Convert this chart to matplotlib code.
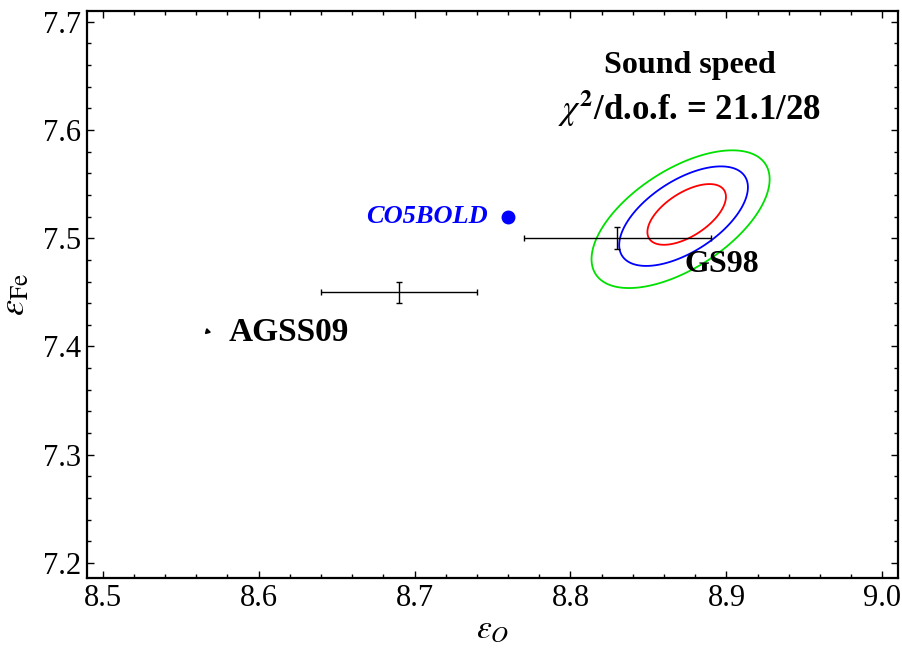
import matplotlib
matplotlib.use("Agg")
import matplotlib.pyplot as plt
import numpy as np
from matplotlib.ticker import MultipleLocator

plt.rcParams['font.family'] = ['Liberation Serif', 'DejaVu Serif']
plt.rcParams['mathtext.fontset'] = 'stix'

# abundance determinations with error bars (eps_O, eps_Fe)
err_x = [8.69, 8.83]
err_y = [7.45, 7.50]
err_dx = [0.05, 0.06]
err_dy = [0.01, 0.01]

# CO5BOLD point
co5bold_x = [8.76]
co5bold_y = [7.52]

# small AGSS09 marker
agss_x = [8.567]
agss_y = [7.414]

# sound speed fit: 1, 2, 3 sigma contours (centre drifts a little per level)
delta_chi2 = [2.30, 6.18, 11.83]
level_cx = [8.8745, 8.8725, 8.8706]
level_cy = [7.522, 7.5204, 7.5176]
fit_sigma = (0.0166, 0.0185)
fit_rho = 0.58
contour_colors = ['red', 'blue', '#00e000']

fig = plt.figure(figsize=(9.02, 6.48), dpi=100)
ax = fig.add_axes([87 / 902, 70 / 648, 811 / 902, 567 / 648])

# chi^2 surface for each confidence level
xg = np.linspace(8.78, 8.97, 400)
yg = np.linspace(7.42, 7.62, 400)
X, Y = np.meshgrid(xg, yg)
for d, cx, cy, c in zip(delta_chi2, level_cx, level_cy, contour_colors):
    u = (X - cx) / fit_sigma[0]
    v = (Y - cy) / fit_sigma[1]
    chi2 = (u**2 - 2 * fit_rho * u * v + v**2) / (1 - fit_rho**2)
    ax.contour(X, Y, chi2, levels=[d], colors=[c], linewidths=1.3)

ax.errorbar(err_x, err_y, xerr=err_dx, yerr=err_dy, fmt='none', ecolor='black',
            elinewidth=1.0, capsize=2.5, capthick=1.0)
ax.plot(co5bold_x, co5bold_y, 'o', color='blue', markersize=9)
ax.plot(agss_x, agss_y, marker=(3, 0, 15), color='black', markersize=4, linestyle='none')

ax.text(8.747, 7.520, 'CO5BOLD', color='blue', fontsize=19, fontweight='bold',
        fontstyle='italic', ha='right', va='center')
ax.text(8.873, 7.4755, 'GS98', color='black', fontsize=23, fontweight='bold',
        ha='left', va='center')
ax.text(8.581, 7.413, 'AGSS09', color='black', fontsize=24, fontweight='bold',
        ha='left', va='center')
ax.text(8.8765, 7.660, 'Sound speed', fontsize=23, fontweight='bold',
        ha='center', va='center')
ax.text(8.8765, 7.620, r'$\chi^{\mathbf{2}}$/d.o.f. = 21.1/28', fontsize=25,
        fontweight='bold', ha='center', va='center')

ax.set_xlim(8.49, 9.01)
ax.set_ylim(7.186, 7.71)
ax.xaxis.set_major_locator(MultipleLocator(0.1))
ax.xaxis.set_minor_locator(MultipleLocator(0.02))
ax.yaxis.set_major_locator(MultipleLocator(0.1))
ax.yaxis.set_minor_locator(MultipleLocator(0.02))
ax.xaxis.set_major_formatter(plt.FuncFormatter(lambda v, p: '%.1f' % v))
ax.yaxis.set_major_formatter(plt.FuncFormatter(lambda v, p: '%.1f' % v))
ax.tick_params(which='both', direction='in', top=True, right=True, labelsize=22,
               width=1.0, color='black')
ax.tick_params(which='major', length=5, pad=4)
ax.tick_params(which='minor', length=3)
for s in ax.spines.values():
    s.set_linewidth(1.6)

ax.set_xlabel(r'$\varepsilon_O$', fontsize=24, labelpad=1)
ax.set_ylabel(r'$\varepsilon_{\rm Fe}$', fontsize=26, labelpad=8)

fig.savefig('out.png', dpi=100)
